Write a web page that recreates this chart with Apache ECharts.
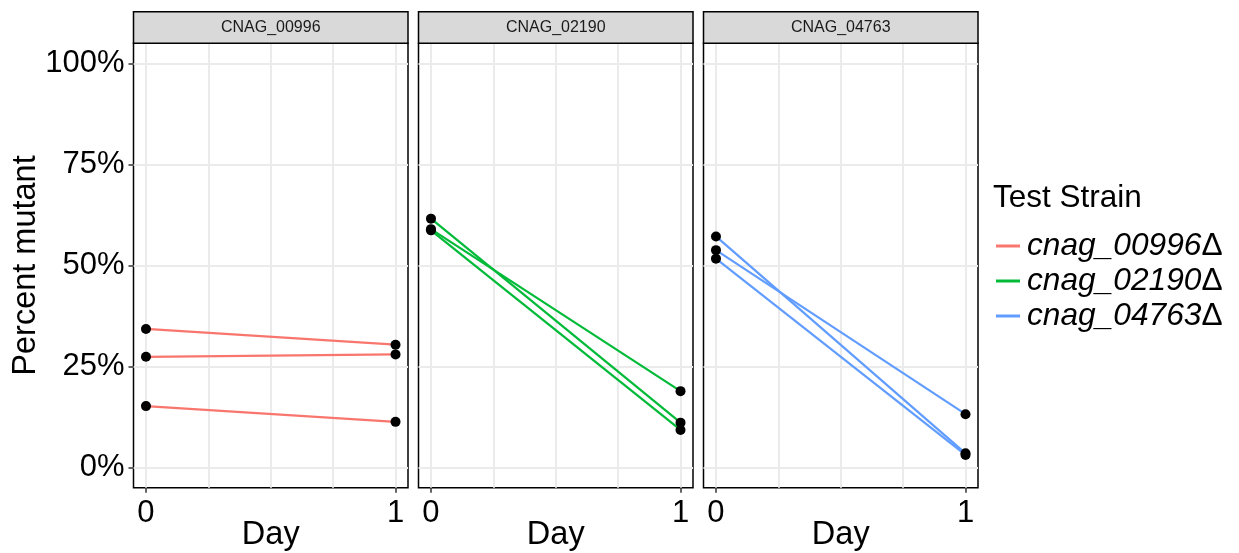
<!DOCTYPE html>
<html lang="en">
<head>
    <meta charset="UTF-8">
    <title>Percent mutant by day</title>
    <script src="https://cdn.jsdelivr.net/npm/echarts@6/dist/echarts.min.js"></script>
</head>
<body style="margin: 0; background: #fff">
<div id="container" style="width: 1239px; height: 553px;"></div>
<script>
    // data (fraction mutant), one entry per replicate
    var days = [0, 1];
    var panels = ["CNAG_00996", "CNAG_02190", "CNAG_04763"];
    var strains = ["cnag_00996\u0394", "cnag_02190\u0394", "cnag_04763\u0394"];
    var day0_00996 = [0.343, 0.274, 0.152];
    var day1_00996 = [0.304, 0.280, 0.113];
    var day0_02190 = [0.616, 0.590, 0.587];
    var day1_02190 = [0.111, 0.189, 0.093];
    var day0_04763 = [0.572, 0.538, 0.517];
    var day1_04763 = [0.035, 0.132, 0.031];
    var yTicks = [0, 0.25, 0.5, 0.75, 1];
    var xGridTicks = [0, 0.25, 0.5, 0.75, 1];

    var day0 = [day0_00996, day0_02190, day0_04763];
    var day1 = [day1_00996, day1_02190, day1_04763];
    var colors = ["#F8766D", "#00BA38", "#619CFF"];

    var font = "Liberation Sans, Arial, sans-serif";
    var panelLeft = [133.5, 418.5, 703.5];
    var panelWidth = 274.5;
    var panelTop = 43.3;
    var panelHeight = 444.4;

    var grids = [], xAxes = [], yAxes = [], series = [], graphics = [];

    panels.forEach(function (p, i) {
        grids.push({
            left: panelLeft[i], top: panelTop, width: panelWidth, height: panelHeight,
            outerBoundsMode: "none", containLabel: false,
            show: true, backgroundColor: "#fff", borderColor: "#000", borderWidth: 1.5
        });
        // visible day axis: labels and ticks at 0 and 1 only
        xAxes.push({
            type: "value", gridIndex: i, min: -0.05, max: 1.05, position: "bottom",
            name: "Day", nameLocation: "middle", nameGap: 31, nameMoveOverlap: false,
            nameTextStyle: { fontSize: 32.5, color: "#000", fontFamily: font },
            axisLine: { show: false, onZero: false },
            axisTick: { show: true, length: 5, customValues: days, lineStyle: { color: "#333", width: 1.5 } },
            axisLabel: { customValues: days, fontSize: 31, color: "#000", fontFamily: font, margin: 10 },
            splitLine: { show: false }
        });
        // second x axis only for the vertical grid lines
        xAxes.push({
            type: "value", gridIndex: i, min: -0.05, max: 1.05, position: "top",
            axisLine: { show: false, onZero: false },
            axisTick: { show: false, customValues: xGridTicks },
            axisLabel: { show: false },
            splitLine: { show: true, lineStyle: { color: "#ebebeb", width: 2 } }
        });
        yAxes.push({
            type: "value", gridIndex: i, min: -0.05, max: 1.05,
            name: i === 0 ? "Percent mutant" : "", nameLocation: "middle", nameGap: 91, nameMoveOverlap: false,
            nameTextStyle: { fontSize: 32.5, color: "#000", fontFamily: font },
            axisLine: { show: false, onZero: false },
            axisTick: { show: i === 0, length: 5, customValues: yTicks, lineStyle: { color: "#333", width: 1.5 } },
            axisLabel: {
                show: i === 0, customValues: yTicks, fontSize: 31, color: "#000", fontFamily: font, margin: 9,
                formatter: function (v) { return Math.round(v * 100) + "%"; }
            },
            splitLine: { show: true, lineStyle: { color: "#ebebeb", width: 2 } }
        });

        var dots = [];
        day0[i].forEach(function (v0, r) {
            var v1 = day1[i][r];
            series.push({
                type: "line", name: strains[i], xAxisIndex: i * 2, yAxisIndex: i,
                data: [[days[0], v0], [days[1], v1]],
                symbol: "none", color: colors[i],
                lineStyle: { width: 2.2, color: colors[i] }, z: 2, silent: true
            });
            dots.push([days[0], v0], [days[1], v1]);
        });
        series.push({
            type: "scatter", name: "pts" + i, xAxisIndex: i * 2, yAxisIndex: i,
            data: dots, symbolSize: 10, itemStyle: { color: "#000", opacity: 1 }, z: 3
        });

        // facet strip
        graphics.push({
            type: "rect", z: 10,
            shape: { x: panelLeft[i], y: 11.7, width: panelWidth, height: panelTop - 11.7 },
            style: { fill: "#d9d9d9", stroke: "#000", lineWidth: 1.5 }
        });
        graphics.push({
            type: "text", z: 11,
            x: panelLeft[i] + panelWidth / 2, y: (11.7 + panelTop) / 2,
            style: { text: p, fontSize: 16, fill: "#1a1a1a", fontFamily: font, align: "center", verticalAlign: "middle" }
        });
    });

    var myChart = echarts.init(document.getElementById("container"), null, { renderer: "canvas" });
    var option = {
        animation: false,
        backgroundColor: "#fff",
        title: {
            text: "Test Strain", left: 993, top: 182, padding: 0,
            textStyle: { fontSize: 31.5, fontWeight: "normal", color: "#000", fontFamily: font }
        },
        legend: {
            data: strains, orient: "vertical", left: 996, top: 230, padding: 0,
            icon: "rect", itemWidth: 24, itemHeight: 3, itemGap: 3,
            formatter: function (name) {
                return "{i|" + name.slice(0, -1) + "}{d|" + name.slice(-1) + "}";
            },
            textStyle: {
                fontSize: 31.7, color: "#000", fontFamily: font, padding: [0, 0, 0, 2],
                rich: {
                    i: { fontSize: 31.7, fontStyle: "italic", color: "#000", fontFamily: font },
                    d: { fontSize: 31.7, color: "#000", fontFamily: font }
                }
            }
        },
        grid: grids,
        xAxis: xAxes,
        yAxis: yAxes,
        series: series,
        graphic: graphics
    };
    myChart.setOption(option);
</script>
</body>
</html>
